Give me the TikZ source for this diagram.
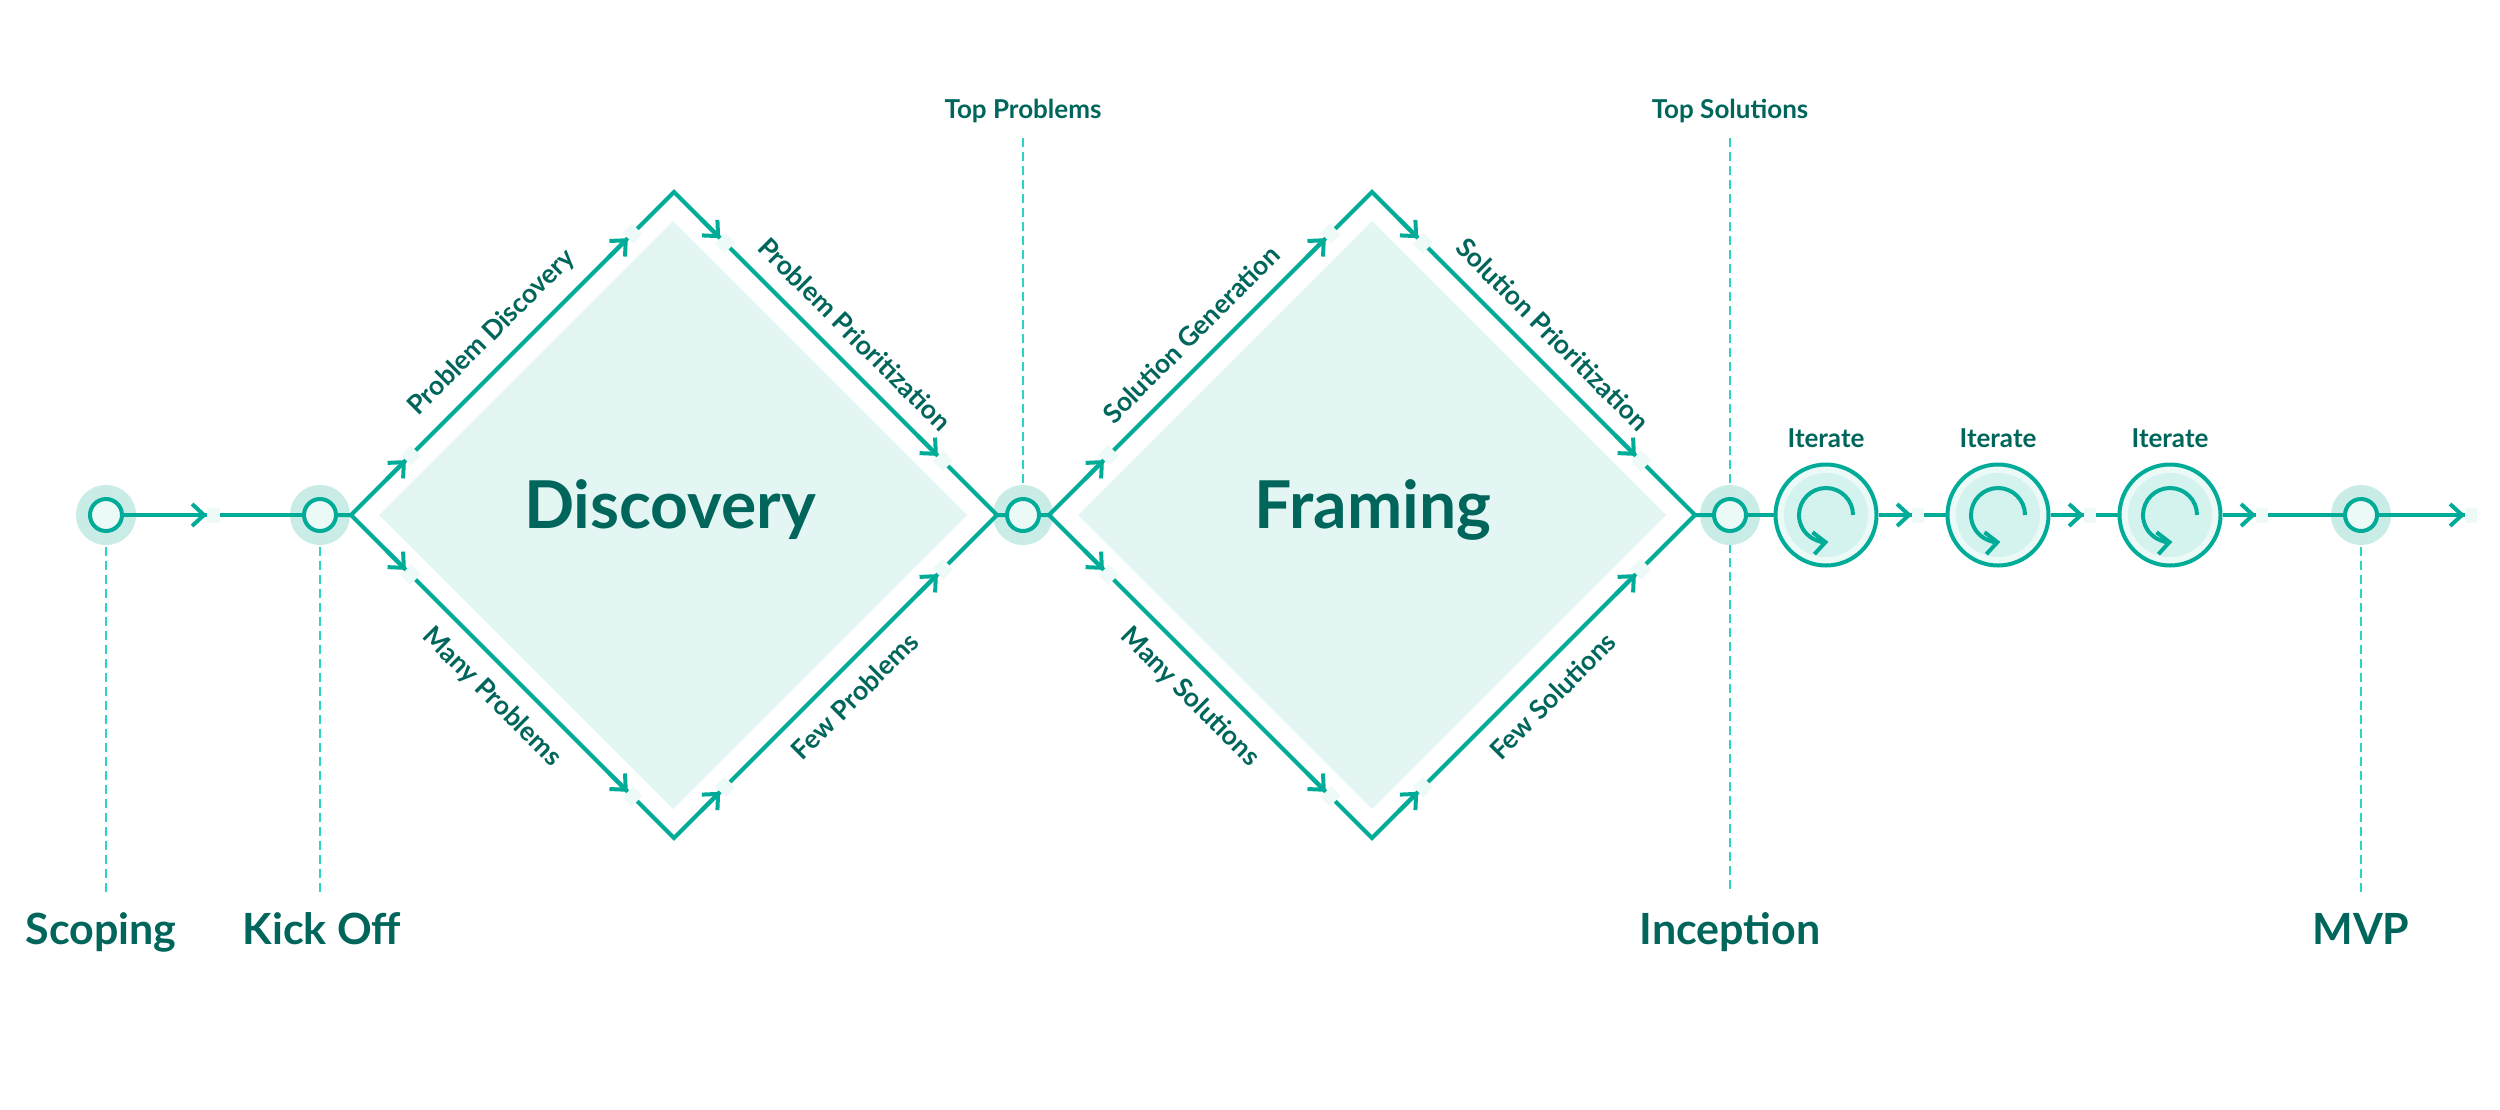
\documentclass[tikz,border=0pt]{standalone}
\usepackage{fontspec}
\setmainfont{Lato}
\usetikzlibrary{arrows.meta,calc}

\definecolor{flowc}{HTML}{00AC98}
\definecolor{ink}{HTML}{00655A}
\definecolor{haloc}{HTML}{C9ECE7}
\definecolor{pale}{HTML}{EBFAF7}
\definecolor{core}{HTML}{D4F2EE}
\definecolor{leaf}{HTML}{E3F6F3}
\definecolor{guidec}{HTML}{2DD4C4}
\definecolor{notch}{HTML}{EEFAF8}

\pgfdeclarelayer{bg}
\pgfsetlayers{bg,main}

\tikzset{
  flow/.style={draw=flowc, line width=4pt},
  barb/.style={-{Straight Barb[length=12pt,width=22pt]}},
  gapline/.style={draw=notch, line width=15pt},
  mile/.style={circle, minimum size=32pt, inner sep=0pt, draw=flowc, line width=4pt, fill=pale,
    preaction={draw=haloc, line width=28pt}},
  iter/.style={circle, minimum size=101pt, inner sep=0pt, draw=flowc, line width=4pt, fill=pale,
    path picture={\fill[core] (path picture bounding box.center) circle (42pt);}},
  guide/.style={draw=guidec, line width=2pt, dash pattern=on 9pt off 5pt},
  stage/.style={font=\bfseries\fontsize{43}{50}\selectfont, text=ink, anchor=base},
  marker/.style={font=\bfseries\fontsize{26}{30}\selectfont, text=ink, anchor=base},
  side/.style={font=\bfseries\fontsize{26.5}{30}\selectfont, text=ink, inner sep=0pt},
  phase/.style={font=\bfseries\fontsize{66}{76}\selectfont, text=ink, anchor=base},
}

% arrow head at #1, pale notch from #1 to #2
\newcommand{\tipgap}[2]{%
  \coordinate (tga) at (#1);
  \coordinate (tgb) at (#2);
  \draw[gapline] (tga) -- (tgb);
  \draw[flow, barb] ($(tgb)!3!(tga)$) -- (tga);
}

\begin{document}
\begin{tikzpicture}[x=1pt,y=-1pt]
  \useasboundingbox (0,0) rectangle (2500,1109);

  % milestones
  \node[mile] (sc) at (106,515) {};
  \node[mile] (ko) at (320,515) {};
  \node[mile] (tp) at (1023,515) {};
  \node[mile] (inc) at (1730,515) {};
  \node[mile] (mvp) at (2361,515) {};
  \node[iter] (it1) at (1826,515) {};
  \node[iter] (it2) at (1998,515) {};
  \node[iter] (it3) at (2170,515) {};

  % diamond corners
  \coordinate (L1) at (351,515);
  \coordinate (T1) at (674,192);
  \coordinate (R1) at (997,515);
  \coordinate (B1) at (674,838);
  \coordinate (L2) at (1049,515);
  \coordinate (T2) at (1372,192);
  \coordinate (R2) at (1695,515);
  \coordinate (B2) at (1372,838);
  \coordinate (fin) at (2465,515);

  \coordinate (gsc) at (106,892);
  \coordinate (gko) at (320,892);
  \coordinate (gtp) at (1023,138);
  \coordinate (gts) at (1730,138);
  \coordinate (ginc) at (1730,892);
  \coordinate (gmvp) at (2361,892);

  \begin{pgfonlayer}{bg}
    \fill[leaf] (673,221) -- (967,515) -- (673,809) -- (379,515) -- cycle;
    \fill[leaf] (1372,221) -- (1666,515) -- (1372,809) -- (1078,515) -- cycle;
    \draw[guide] (gsc) -- (sc);
    \draw[guide] (gko) -- (ko);
    \draw[guide] (gtp) -- (tp);
    \draw[guide] (gts) -- (ginc);
    \draw[guide] (gmvp) -- (mvp);
  \end{pgfonlayer}

  % flow lines
  \draw[flow] (sc) -- (ko);
  \draw[flow, line join=miter] (ko) -- (L1) -- (T1) -- (R1) -- (tp);
  \draw[flow, line join=miter] (L1) -- (B1) -- (R1);
  \draw[flow, line join=miter] (tp) -- (L2) -- (T2) -- (R2) -- (inc);
  \draw[flow, line join=miter] (L2) -- (B2) -- (R2);
  \draw[flow] (inc) -- (it1);
  \draw[flow] (it1) -- (it2);
  \draw[flow] (it2) -- (it3);
  \draw[flow] (it3) -- (mvp);
  \draw[flow] (mvp) -- (fin);

  % arrow heads
  \tipgap{207,515}{220,515}
  \tipgap{$(L1)!.17!(T1)$}{$(L1)!.20!(T1)$}
  \tipgap{$(L1)!.857!(T1)$}{$(L1)!.886!(T1)$}
  \tipgap{$(T1)!.143!(R1)$}{$(T1)!.173!(R1)$}
  \tipgap{$(T1)!.817!(R1)$}{$(T1)!.848!(R1)$}
  \tipgap{$(L1)!.17!(B1)$}{$(L1)!.20!(B1)$}
  \tipgap{$(L1)!.857!(B1)$}{$(L1)!.886!(B1)$}
  \tipgap{$(B1)!.143!(R1)$}{$(B1)!.173!(R1)$}
  \tipgap{$(B1)!.817!(R1)$}{$(B1)!.848!(R1)$}
  \tipgap{$(L2)!.17!(T2)$}{$(L2)!.20!(T2)$}
  \tipgap{$(L2)!.857!(T2)$}{$(L2)!.886!(T2)$}
  \tipgap{$(T2)!.143!(R2)$}{$(T2)!.173!(R2)$}
  \tipgap{$(T2)!.817!(R2)$}{$(T2)!.848!(R2)$}
  \tipgap{$(L2)!.17!(B2)$}{$(L2)!.20!(B2)$}
  \tipgap{$(L2)!.857!(B2)$}{$(L2)!.886!(B2)$}
  \tipgap{$(B2)!.143!(R2)$}{$(B2)!.173!(R2)$}
  \tipgap{$(B2)!.817!(R2)$}{$(B2)!.848!(R2)$}
  \tipgap{1912,515}{1924,515}
  \tipgap{2084,515}{2096,515}
  \tipgap{2256,515}{2268,515}
  \tipgap{fin}{2477,515}

  % loops
  \draw[flow, barb] ($(it1)+(27,0)$) arc[start angle=0, end angle=-275, radius=27];
  \draw[flow, barb] ($(it2)+(27,0)$) arc[start angle=0, end angle=-275, radius=27];
  \draw[flow, barb] ($(it3)+(27,0)$) arc[start angle=0, end angle=-275, radius=27];

  % side labels
  \path (L1) -- (T1) node[side, midway, sloped, above=17pt] (lpd) {Problem Discovery};
  \path (T1) -- (R1) node[side, midway, sloped, above=17pt] (lpp) {Problem Prioritization};
  \path (L1) -- (B1) node[side, midway, sloped, below=17pt] (lmp) {Many Problems};
  \path (B1) -- (R1) node[side, midway, sloped, below=17pt] (lfp) {Few Problems};
  \path (L2) -- (T2) node[side, midway, sloped, above=17pt] (lsg) {Solution Generation};
  \path (T2) -- (R2) node[side, midway, sloped, above=17pt] (lsp) {Solution Prioritization};
  \path (L2) -- (B2) node[side, midway, sloped, below=17pt] (lms) {Many Solutions};
  \path (B2) -- (R2) node[side, midway, sloped, below=17pt] (lfs) {Few Solutions};

  % texts
  \node[phase] (ldis) at (670,528) {Discovery};
  \node[phase] (lfra) at (1373,528) {Framing};
  \node[marker] (ltp) at (1023,118) {Top Problems};
  \node[marker] (lts) at (1730,118) {Top Solutions};
  \node[marker] (lit1) at (1826,447) {Iterate};
  \node[marker] (lit2) at (1998,447) {Iterate};
  \node[marker] (lit3) at (2170,447) {Iterate};
  \node[stage] (lsc) at (101,944) {Scoping};
  \node[stage] (lko) at (322,944) {Kick Off};
  \node[stage] (linc) at (1730,944) {Inception};
  \node[stage] (lmvp) at (2361,944) {MVP};
\end{tikzpicture}
\end{document}
